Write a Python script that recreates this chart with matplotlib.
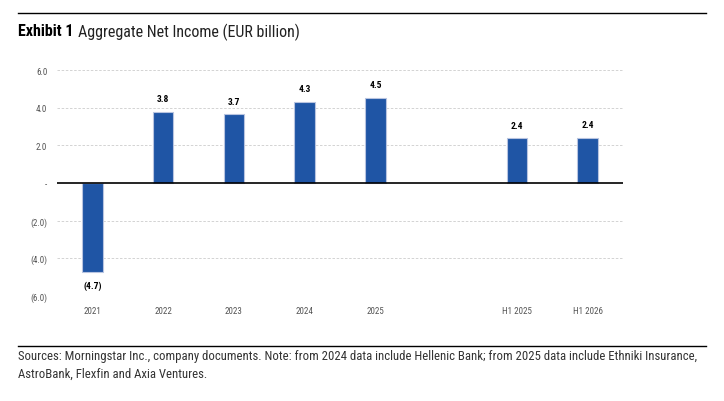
import matplotlib
matplotlib.use("Agg")
import matplotlib.pyplot as plt
from matplotlib import font_manager

names = {f.name for f in font_manager.fontManager.ttflist}
narrow = 'Roboto Condensed' if 'Roboto Condensed' in names else 'DejaVu Sans'
plt.rcParams['font.family'] = [narrow, 'DejaVu Sans']

categories = ["2021", "2022", "2023", "2024", "2025", "", "H1 2025", "H1 2026"]
values = [-4.72, 3.78, 3.65, 4.31, 4.53, None, 2.37, 2.41]
labels = ["(4.7)", "3.8", "3.7", "4.3", "4.5", "", "2.4", "2.4"]
yticks = [-6, -4, -2, 0, 2, 4, 6]
ytick_labels = ["(6.0)", "(4.0)", "(2.0)", "-", "2.0", "4.0", "6.0"]

fig = plt.figure(figsize=(7.24, 4.02), dpi=100)
ax = fig.add_axes([57/724, 1-297/402, 566/724, 226/402])

bar_color = "#1F55A5"
xs = [i for i, v in enumerate(values) if v is not None]
vs = [v for v in values if v is not None]
ax.bar(xs, vs, width=0.29, color=bar_color, edgecolor="#B8C4E0", linewidth=0.8, zorder=3)

for i, (v, lab) in enumerate(zip(values, labels)):
    if v is None:
        continue
    if v >= 0:
        ax.text(i, v + 0.45, lab, ha='center', va='bottom', fontsize=6.8, fontweight='bold', color='black')
    else:
        ax.text(i, v - 0.45, lab, ha='center', va='top', fontsize=6.8, fontweight='bold', color='black')

ax.set_xlim(-0.5, 7.5)
ax.set_ylim(-6, 6)
ax.set_yticks(yticks)
ax.set_yticklabels(ytick_labels)
ax.set_xticks(range(len(categories)))
ax.set_xticklabels(categories)
ax.tick_params(axis='both', length=0, labelsize=6.5, colors='#555555')
ax.tick_params(axis='y', pad=7)
ax.tick_params(axis='x', pad=7)
for lbl in ax.get_yticklabels():
    lbl.set_horizontalalignment('right')

for y in yticks:
    if y != 0:
        ax.axhline(y, color='#CCCCCC', linestyle=(0, (3, 2)), linewidth=0.6, zorder=1)
ax.axhline(0, color='black', linewidth=1.2, zorder=4)
for s in ax.spines.values():
    s.set_visible(False)

# top and bottom rules
fig.add_artist(plt.Line2D([18/724, 706/724], [1-14/402, 1-14/402], color='black', linewidth=1.0))
fig.add_artist(plt.Line2D([18/724, 706/724], [1-347/402, 1-347/402], color='black', linewidth=1.0))

t1 = fig.text(18/724, 1-32/402, "Exhibit 1", fontsize=11.5, fontweight='bold', va='center', ha='left')
fig.canvas.draw()
bb = t1.get_window_extent()
fig.text((bb.x1 + 4)/724, 1-32/402, "Aggregate Net Income (EUR billion)", fontsize=11.5, va='center', ha='left', color='#222222')

fig.text(18/724, 1-357/402, "Sources: Morningstar Inc., company documents. Note: from 2024 data include Hellenic Bank; from 2025 data include Ethniki Insurance,",
         fontsize=9.2, va='center', ha='left', color='#333333')
fig.text(18/724, 1-374/402, "AstroBank, Flexfin and Axia Ventures.", fontsize=9.2, va='center', ha='left', color='#333333')

fig.savefig("out.png", dpi=100)
